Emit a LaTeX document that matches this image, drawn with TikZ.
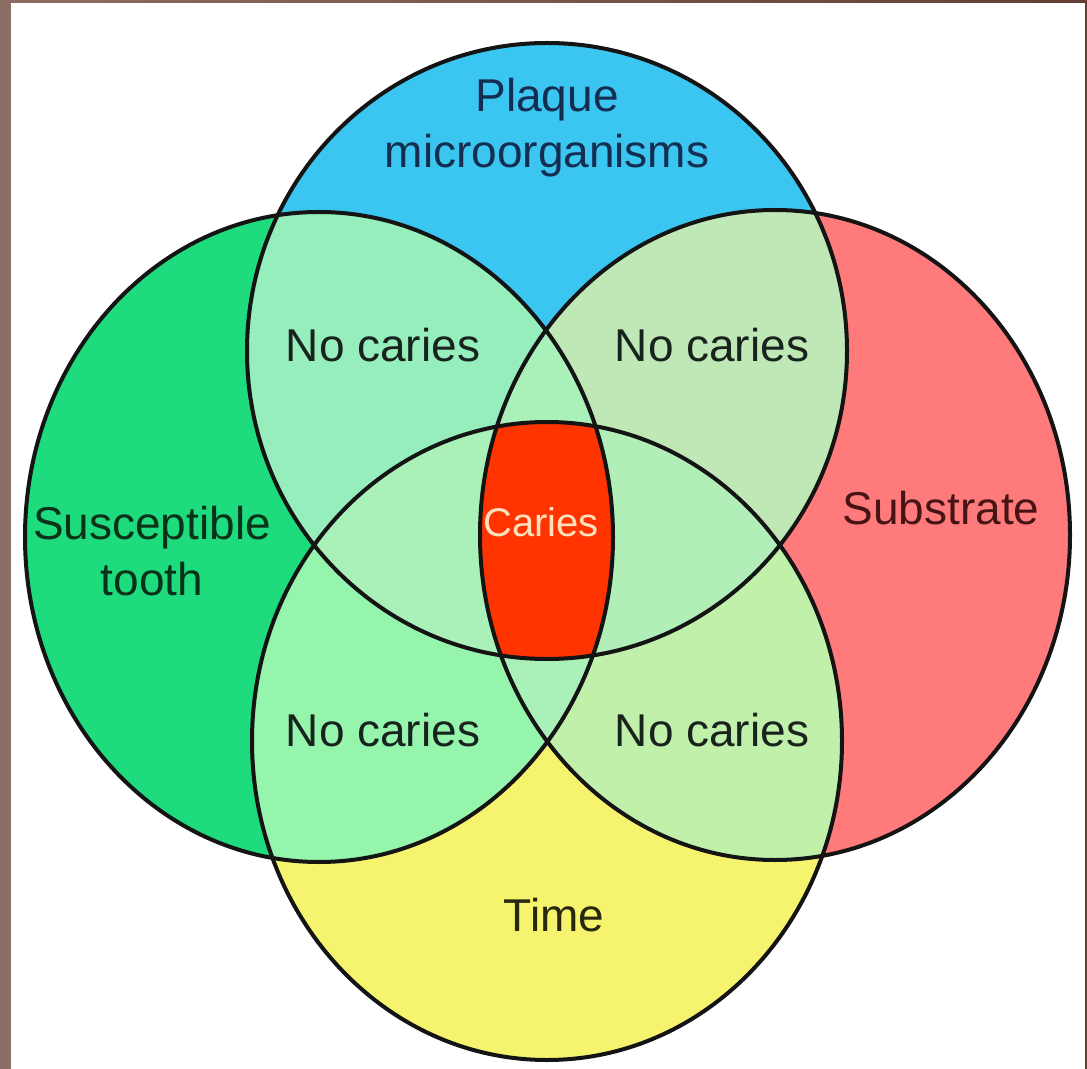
\documentclass[tikz,border=0pt]{standalone}
\usepackage{fontspec}
\setmainfont{Liberation Sans}

\definecolor{bordosx}{RGB}{140,110,100}
\definecolor{bordodx}{RGB}{100,62,52}
\definecolor{blu}{RGB}{58,198,240}
\definecolor{verde}{RGB}{30,220,125}
\definecolor{rosa}{RGB}{255,122,122}
\definecolor{giallo}{RGB}{246,244,110}
\definecolor{menta}{RGB}{150,238,188}
\definecolor{salvia}{RGB}{192,232,182}
\definecolor{prato}{RGB}{150,245,172}
\definecolor{tiglio}{RGB}{192,240,170}
\definecolor{chiaro}{RGB}{170,240,185}
\definecolor{carie}{RGB}{255,52,0}
\definecolor{testoBlu}{RGB}{20,45,80}
\definecolor{testoVerde}{RGB}{10,50,25}
\definecolor{testoRosso}{RGB}{70,20,20}
\definecolor{testoScuro}{RGB}{25,35,30}
\definecolor{testoGiallo}{RGB}{40,40,15}
\definecolor{testoCarie}{RGB}{255,225,190}

% i quattro cerchi
\newcommand{\placca}{(547,351) ellipse [x radius=300, y radius=308]}
\newcommand{\dente}{(319,537) ellipse [x radius=294, y radius=325]}
\newcommand{\substrato}{(775,535) ellipse [x radius=295, y radius=325]}
\newcommand{\tempo}{(547,741) ellipse [x radius=295, y radius=319]}

\begin{document}
\begin{tikzpicture}[x=0.5pt, y=-0.5pt,
    contorno/.style={draw=black!92, line width=2pt},
    etichetta/.style={font=\fontsize{23}{28}\selectfont, align=center, inner sep=0pt}]

    % Sfondo e bordo
    \useasboundingbox (0,0) rectangle (1087,1069);
    \fill[white] (0,0) rectangle (1087,1069);
    \fill[bordosx] (0,0) rectangle (11,1069);
    \shade[left color=bordosx, right color=bordodx] (0,0) rectangle (1087,3);
    \fill[bordodx] (1085,0) rectangle (1087,1069);

    % Cerchi
    \fill[blu] \placca;
    \fill[verde] \dente;
    \fill[rosa] \substrato;
    \fill[giallo] \tempo;

    % Intersezioni a due
    \begin{scope}
        \clip \placca;
        \fill[menta] \dente;
        \fill[salvia] \substrato;
    \end{scope}
    \begin{scope}
        \clip \tempo;
        \fill[prato] \dente;
        \fill[tiglio] \substrato;
    \end{scope}

    % Intersezioni a tre
    \begin{scope}
        \clip \dente;
        \clip \substrato;
        \fill[chiaro] \placca;
        \fill[chiaro] \tempo;
    \end{scope}
    \begin{scope}
        \clip \placca;
        \clip \tempo;
        \fill[chiaro] \dente;
        \fill[chiaro!70!salvia] \substrato;
    \end{scope}

    % Carie
    \begin{scope}
        \clip \placca;
        \clip \tempo;
        \clip \dente;
        \fill[carie] \substrato;
    \end{scope}

    % Contorni
    \draw[contorno] \placca;
    \draw[contorno] \dente;
    \draw[contorno] \substrato;
    \draw[contorno] \tempo;

    % Etichette
    \node[etichetta, text=testoBlu] (lblPlacca) at (547,128) {Plaque\\microorganisms};
    \node[etichetta, text=testoVerde] (lblDente) at (152,551) {Susceptible\\tooth};
    \node[etichetta, text=testoRosso] (lblSubstrato) at (941,508) {Substrate};
    \node[etichetta, text=testoGiallo] (lblTempo) at (554,915) {Time};
    \node[etichetta, text=testoScuro] (lblNoA) at (383,345) {No caries};
    \node[etichetta, text=testoScuro] (lblNoB) at (712,345) {No caries};
    \node[etichetta, text=testoScuro] (lblNoC) at (383,730) {No caries};
    \node[etichetta, text=testoScuro] (lblNoD) at (712,730) {No caries};
    \node[etichetta, text=testoCarie, font=\fontsize{20}{24}\selectfont] (lblCarie) at (541,522) {Caries};

\end{tikzpicture}
\end{document}
